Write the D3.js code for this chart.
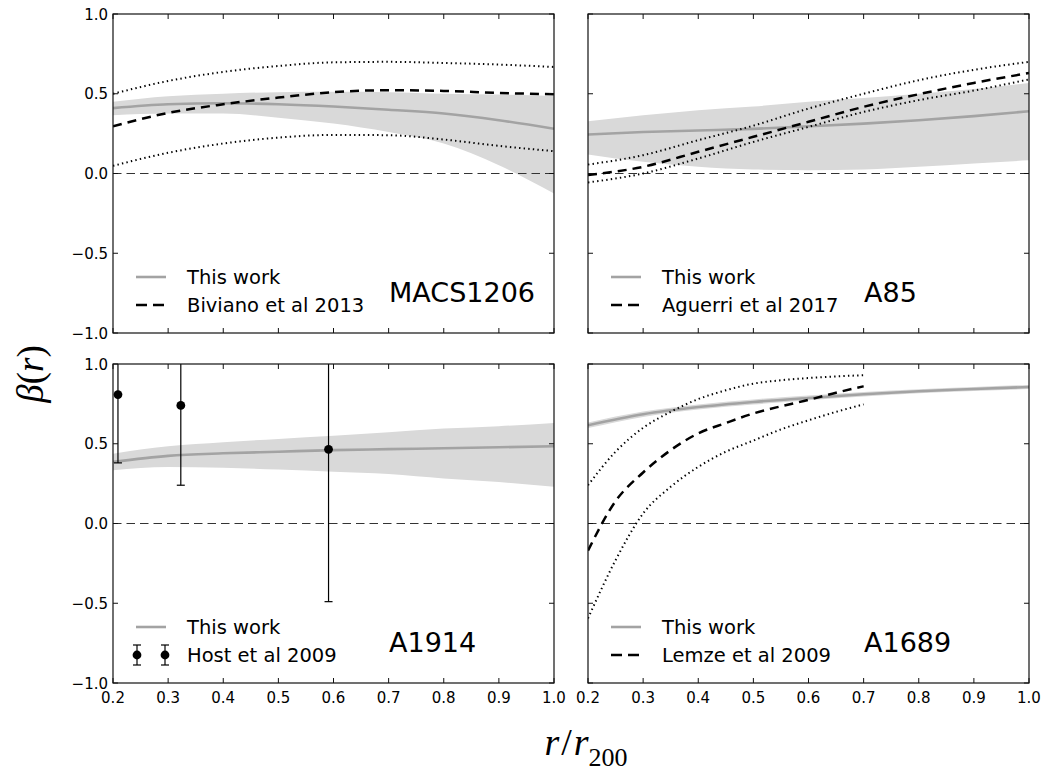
<!DOCTYPE html>
<html>
<head>
<meta charset="utf-8">
<script src="https://cdn.jsdelivr.net/npm/d3@7"></script>
<style>
  body { margin: 0; background: #fff; }
  text { font-family: "DejaVu Sans", sans-serif; fill: #000; }
</style>
</head>
<body>
<div id="canvas"></div>
<script>
// radial grid shared by the model curves
const rGrid = [0.2, 0.3, 0.4, 0.5, 0.6, 0.7, 0.8, 0.9, 1.0];
const xTicks = [0.2, 0.3, 0.4, 0.5, 0.6, 0.7, 0.8, 0.9, 1.0];
const yTicks = [-1.0, -0.5, 0.0, 0.5, 1.0];

// MACS1206
const macsMid = [0.41, 0.434, 0.44, 0.434, 0.42, 0.40, 0.376, 0.334, 0.28];
const macsHi  = [0.45, 0.484, 0.50, 0.51, 0.512, 0.51, 0.50, 0.495, 0.486];
const macsLo  = [0.365, 0.376, 0.376, 0.35, 0.313, 0.26, 0.188, 0.052, -0.125];
const bivMid  = [0.296, 0.38, 0.434, 0.476, 0.51, 0.522, 0.518, 0.505, 0.497];
const bivHi   = [0.50, 0.58, 0.637, 0.674, 0.697, 0.70, 0.693, 0.683, 0.668];
const bivLo   = [0.048, 0.13, 0.188, 0.225, 0.242, 0.24, 0.213, 0.173, 0.14];

// A85
const a85Mid = [0.244, 0.26, 0.27, 0.28, 0.296, 0.313, 0.334, 0.36, 0.39];
const a85Hi  = [0.328, 0.365, 0.397, 0.42, 0.45, 0.474, 0.50, 0.53, 0.568];
const a85Lo  = [0.119, 0.073, 0.042, 0.025, 0.021, 0.025, 0.042, 0.063, 0.083];
const agMid  = [-0.01, 0.042, 0.136, 0.23, 0.324, 0.418, 0.497, 0.568, 0.63];
const agHi   = [0.056, 0.115, 0.209, 0.30, 0.407, 0.50, 0.585, 0.65, 0.70];
const agLo   = [-0.056, 0.0, 0.094, 0.198, 0.292, 0.386, 0.46, 0.52, 0.59];

// A1914
const a1914Mid = [0.386, 0.424, 0.44, 0.45, 0.46, 0.466, 0.472, 0.478, 0.484];
const a1914Hi  = [0.438, 0.484, 0.51, 0.53, 0.55, 0.572, 0.595, 0.61, 0.63];
const a1914Lo  = [0.334, 0.355, 0.349, 0.338, 0.324, 0.31, 0.282, 0.26, 0.23];
const hostR    = [0.209, 0.323, 0.591];
const hostBeta = [0.808, 0.74, 0.465];
const hostLo   = [0.38, 0.24, -0.49];
const hostHi   = [1.1, 1.1, 1.1];

// A1689
const a1689Mid = [0.616, 0.685, 0.73, 0.762, 0.787, 0.81, 0.829, 0.843, 0.856];
const a1689Hi  = [0.634, 0.702, 0.746, 0.778, 0.802, 0.824, 0.842, 0.856, 0.869];
const a1689Lo  = [0.598, 0.668, 0.714, 0.746, 0.772, 0.796, 0.816, 0.830, 0.843];
const lemR     = [0.2, 0.25, 0.3, 0.35, 0.4, 0.45, 0.5, 0.55, 0.6, 0.65, 0.7];
const lemMid   = [-0.17, 0.14, 0.32, 0.46, 0.565, 0.63, 0.69, 0.735, 0.775, 0.82, 0.86];
const lemHi    = [0.24, 0.45, 0.60, 0.70, 0.78, 0.835, 0.877, 0.898, 0.912, 0.922, 0.93];
const lemLo    = [-0.595, -0.23, 0.063, 0.23, 0.355, 0.45, 0.52, 0.59, 0.647, 0.70, 0.747];

const W = 1049, H = 771;
const pw = 441, ph = 319;

const svg = d3.select("#canvas")
  .append("svg")
    .attr("width", W)
    .attr("height", H)
    .attr("viewBox", [0, 0, W, H]);

const panels = [
  { left: 113, top: 14, name: "MACS1206", ref: "Biviano et al 2013",
    band: [macsLo, macsHi], mid: macsMid,
    cmpR: rGrid, cmp: [bivMid, bivHi, bivLo], xlab: false, ylab: true },
  { left: 588, top: 14, name: "A85", ref: "Aguerri et al 2017",
    band: [a85Lo, a85Hi], mid: a85Mid,
    cmpR: rGrid, cmp: [agMid, agHi, agLo], xlab: false, ylab: false },
  { left: 113, top: 364, name: "A1914", ref: "Host et al 2009",
    band: [a1914Lo, a1914Hi], mid: a1914Mid,
    points: true, xlab: true, ylab: true },
  { left: 588, top: 364, name: "A1689", ref: "Lemze et al 2009",
    band: [a1689Lo, a1689Hi], mid: a1689Mid,
    cmpR: lemR, cmp: [lemMid, lemHi, lemLo], xlab: true, ylab: false }
];

panels.forEach((p, i) => drawPanel(p, i));

function drawPanel(p, i) {
  const x = d3.scaleLinear().domain([0.2, 1.0]).range([0, pw]);
  const y = d3.scaleLinear().domain([-1, 1]).range([ph, 0]);

  const g = svg.append("g").attr("transform", "translate(" + p.left + "," + p.top + ")");

  g.append("clipPath").attr("id", "clip" + i)
    .append("rect").attr("width", pw).attr("height", ph);
  const plot = g.append("g").attr("clip-path", "url(#clip" + i + ")");

  const area = d3.area()
    .x((d, k) => x(rGrid[k]))
    .y0((d, k) => y(p.band[0][k]))
    .y1((d, k) => y(p.band[1][k]))
    .curve(d3.curveMonotoneX);
  plot.append("path").datum(rGrid).attr("d", area)
    .attr("fill", "#d9d9d9").attr("stroke", "none");

  const line = d3.line().curve(d3.curveMonotoneX);

  plot.append("path")
    .datum(rGrid.map((r, k) => [x(r), y(p.mid[k])]))
    .attr("d", line)
    .attr("fill", "none").attr("stroke", "#a3a3a3").attr("stroke-width", 2.6);

  // zero reference
  plot.append("line")
    .attr("x1", 0).attr("x2", pw).attr("y1", y(0)).attr("y2", y(0))
    .attr("stroke", "#333").attr("stroke-width", 1).attr("stroke-dasharray", "8.5,5");

  if (p.cmp) {
    const [mid, hi, lo] = p.cmp;
    [hi, lo].forEach(arr => {
      plot.append("path")
        .datum(p.cmpR.map((r, k) => [x(r), y(arr[k])]))
        .attr("d", line)
        .attr("fill", "none").attr("stroke", "#000")
        .attr("stroke-width", 2).attr("stroke-dasharray", "1.4,3.2");
    });
    plot.append("path")
      .datum(p.cmpR.map((r, k) => [x(r), y(mid[k])]))
      .attr("d", line)
      .attr("fill", "none").attr("stroke", "#000")
      .attr("stroke-width", 2.5).attr("stroke-dasharray", "9,6");
  }

  if (p.points) {
    const pts = plot.selectAll("g.pt").data(hostR).enter().append("g").attr("class", "pt");
    pts.append("line")
      .attr("x1", (d) => x(d)).attr("x2", (d) => x(d))
      .attr("y1", (d, k) => y(hostLo[k])).attr("y2", (d, k) => y(hostHi[k]))
      .attr("stroke", "#000").attr("stroke-width", 1.2);
    pts.append("line")
      .attr("x1", (d) => x(d) - 4).attr("x2", (d) => x(d) + 4)
      .attr("y1", (d, k) => y(hostLo[k])).attr("y2", (d, k) => y(hostLo[k]))
      .attr("stroke", "#000").attr("stroke-width", 1.2);
    pts.append("circle")
      .attr("cx", (d) => x(d)).attr("cy", (d, k) => y(hostBeta[k]))
      .attr("r", 4.4).attr("fill", "#000");
  }

  // frame
  g.append("rect").attr("width", pw).attr("height", ph)
    .attr("fill", "none").attr("stroke", "#111").attr("stroke-width", 1.2);

  // inward ticks on all sides
  const tk = 5;
  g.selectAll("line.xb").data(xTicks).enter().append("line")
    .attr("x1", (d) => x(d)).attr("x2", (d) => x(d)).attr("y1", ph).attr("y2", ph - tk)
    .attr("stroke", "#111");
  g.selectAll("line.xt").data(xTicks).enter().append("line")
    .attr("x1", (d) => x(d)).attr("x2", (d) => x(d)).attr("y1", 0).attr("y2", tk)
    .attr("stroke", "#111");
  g.selectAll("line.yl").data(yTicks).enter().append("line")
    .attr("x1", 0).attr("x2", tk).attr("y1", (d) => y(d)).attr("y2", (d) => y(d))
    .attr("stroke", "#111");
  g.selectAll("line.yr").data(yTicks).enter().append("line")
    .attr("x1", pw).attr("x2", pw - tk).attr("y1", (d) => y(d)).attr("y2", (d) => y(d))
    .attr("stroke", "#111");

  if (p.xlab) {
    g.selectAll("text.xl").data(xTicks).enter().append("text")
      .attr("x", (d) => x(d)).attr("y", ph + 20)
      .attr("text-anchor", "middle").attr("font-size", 15)
      .text((d) => d.toFixed(1));
  }
  if (p.ylab) {
    g.selectAll("text.yl").data(yTicks).enter().append("text")
      .attr("x", -5).attr("y", (d) => y(d) + 5.5)
      .attr("text-anchor", "end").attr("font-size", 15)
      .text((d) => d.toFixed(1).replace("-", "\u2212"));
  }

  // legend
  const ly1 = ph - 56, ly2 = ph - 28;
  g.append("line").attr("x1", 23).attr("x2", 53).attr("y1", ly1).attr("y2", ly1)
    .attr("stroke", "#a3a3a3").attr("stroke-width", 2.6);
  g.append("text").attr("x", 74).attr("y", ly1 + 7).attr("font-size", 19.5).text("This work");
  if (p.points) {
    [24, 52].forEach(dx => {
      g.append("line").attr("x1", dx).attr("x2", dx).attr("y1", ly2 - 10).attr("y2", ly2 + 10)
        .attr("stroke", "#000").attr("stroke-width", 1.2);
      g.append("line").attr("x1", dx - 4).attr("x2", dx + 4).attr("y1", ly2 - 10).attr("y2", ly2 - 10)
        .attr("stroke", "#000").attr("stroke-width", 1.2);
      g.append("line").attr("x1", dx - 4).attr("x2", dx + 4).attr("y1", ly2 + 10).attr("y2", ly2 + 10)
        .attr("stroke", "#000").attr("stroke-width", 1.2);
      g.append("circle").attr("cx", dx).attr("cy", ly2).attr("r", 4.4).attr("fill", "#000");
    });
  } else {
    g.append("line").attr("x1", 23).attr("x2", 53).attr("y1", ly2).attr("y2", ly2)
      .attr("stroke", "#000").attr("stroke-width", 2.5).attr("stroke-dasharray", "11,6");
  }
  g.append("text").attr("x", 74).attr("y", ly2 + 7).attr("font-size", 19.5).text(p.ref);

  g.append("text").attr("x", 276).attr("y", ph - 31).attr("font-size", 27).text(p.name);
}

// axis titles
const ylab = svg.append("text")
  .attr("transform", "translate(43,374) rotate(-90)")
  .attr("text-anchor", "middle")
  .style("font-family", "'Liberation Serif', 'DejaVu Serif', serif")
  .attr("font-size", 37);
ylab.append("tspan").attr("font-style", "italic").text("\u03b2");
ylab.append("tspan").text("(");
ylab.append("tspan").attr("font-style", "italic").text("r");
ylab.append("tspan").text(")");

const xlab = svg.append("text")
  .attr("x", 586).attr("y", 755)
  .attr("text-anchor", "middle")
  .style("font-family", "'Liberation Serif', 'DejaVu Serif', serif")
  .attr("font-size", 38);
xlab.append("tspan").attr("font-style", "italic").text("r");
xlab.append("tspan").attr("dx", 2).text("/");
xlab.append("tspan").attr("dx", 2).attr("font-style", "italic").text("r");
xlab.append("tspan").attr("font-size", 26).attr("dy", 11).text("200");
</script>
</body>
</html>
